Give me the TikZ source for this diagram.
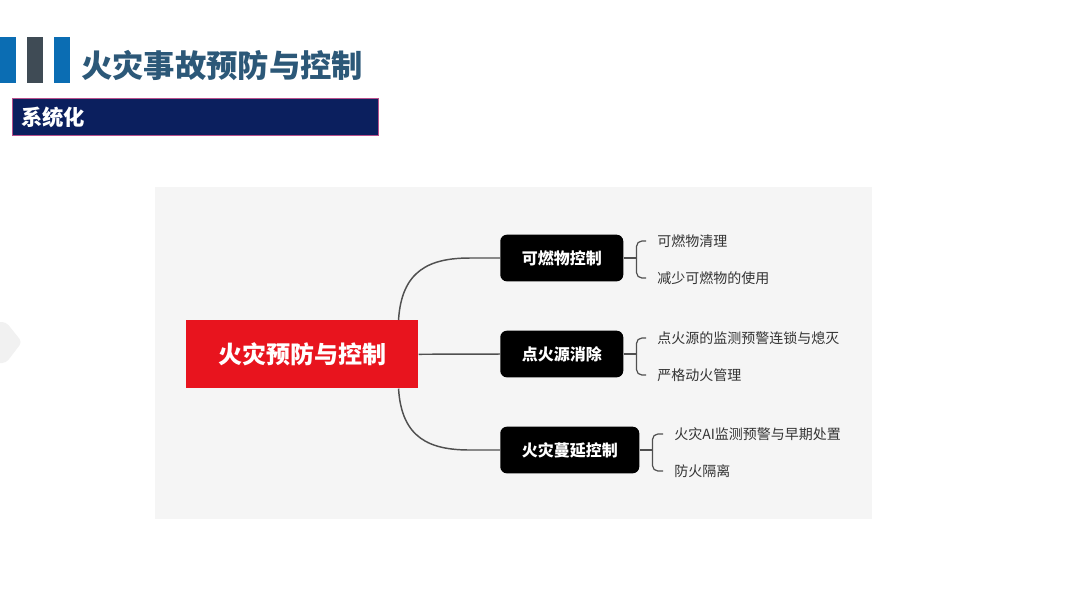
\documentclass[tikz,border=0pt]{standalone}
\usepackage{fontspec}
\newfontfamily\cjk{Noto Sans CJK SC}
\definecolor{barblue}{HTML}{0B6DB3}
\definecolor{bargray}{HTML}{3F4B55}
\definecolor{titlecol}{HTML}{2C5878}
\definecolor{navy}{HTML}{0B1F5E}
\definecolor{pinkedge}{HTML}{B8508C}
\definecolor{panel}{HTML}{F5F5F5}
\definecolor{mainred}{HTML}{E8141E}
\definecolor{linkgray}{HTML}{505050}
\definecolor{leaftext}{HTML}{333333}
\definecolor{faint}{HTML}{F1F1F1}
\tikzset{
  catbox/.style={fill=black, rounded corners=5pt, text=white, font=\cjk\bfseries\fontsize{12}{14}\selectfont, minimum height=35pt, inner xsep=0pt, anchor=west},
  leaf/.style={text=leaftext, font=\cjk\fontsize{10.5}{12}\selectfont, anchor=west, inner sep=0pt},
  link/.style={draw=linkgray, line width=1.1pt},
  brace/.style={draw=linkgray, line width=0.9pt, rounded corners=4pt},
}
\begin{document}
\begin{tikzpicture}[x=0.75pt,y=-0.75pt]
\path[use as bounding box, fill=white] (0,0) rectangle (1080,608);
% faint left shape
\fill[faint, rounded corners=3pt] (-5,322) -- (6,322) -- (22,342) -- (6,363) -- (-5,363) -- cycle;
% header bars
\fill[barblue] (0,37) rectangle (16,83);
\fill[bargray] (27,37) rectangle (43,83);
\fill[barblue] (54,37) rectangle (70,83);
\node[anchor=west, inner sep=0pt, text=titlecol, font=\cjk\bfseries\fontsize{23.5}{26}\selectfont] (title) at (81,65) {火灾事故预防与控制};
% subtitle bar
\node[draw=pinkedge, line width=0.8pt, fill=navy, anchor=north west, minimum width=366*0.75pt, minimum height=37*0.75pt, inner sep=0pt] (sub) at (12,98) {};
\node[anchor=west, inner sep=0pt, text=white, font=\cjk\bfseries\fontsize{16}{18}\selectfont] (subtxt) at (21,117) {系统化};
% panel
\fill[panel] (155,187) rectangle (872,519);
% main node
\node[fill=mainred, anchor=north west, minimum width=232*0.75pt, minimum height=68*0.75pt, inner sep=0pt, text=white, font=\cjk\bfseries\fontsize{18}{20}\selectfont] (main) at (186,320) {火灾预防与控制};
% category nodes
\node[catbox, minimum width=123*0.75pt] (k1) at (500,258) {可燃物控制};
\node[catbox, minimum width=123*0.75pt] (k2) at (500,354) {点火源消除};
\node[catbox, minimum width=139*0.75pt] (k3) at (500,450) {火灾蔓延控制};
% leaves
\node[leaf] (l11) at (657,241) {可燃物清理};
\node[leaf] (l12) at (657,278) {减少可燃物的使用};
\node[leaf] (l21) at (657,338) {点火源的监测预警连锁与熄灭};
\node[leaf] (l22) at (657,375) {严格动火管理};
\node[leaf] (l31) at (674,434) {火灾AI监测预警与早期处置};
\node[leaf] (l32) at (674,471) {防火隔离};
% main links
\coordinate (mtop) at ([xshift=-20*0.75pt]main.north east);
\coordinate (mbot) at ([xshift=-20*0.75pt]main.south east);
\draw[link] (mtop) .. controls ++(3,-50) and ++(-40,0) .. ([xshift=-30*0.75pt]k1.west) -- (k1.west);
\draw[link] (main.east) -- (k2.west);
\draw[link] (mbot) .. controls ++(3,50) and ++(-40,0) .. ([xshift=-30*0.75pt]k3.west) -- (k3.west);
% braces
\coordinate (j1) at ([xshift=13*0.75pt]k1.east);
\coordinate (j2) at ([xshift=13*0.75pt]k2.east);
\coordinate (j3) at ([xshift=13*0.75pt]k3.east);
\draw[link, line width=0.9pt] (k1.east) -- (j1);
\draw[brace] (j1) |- ([xshift=-11*0.75pt]l11.west);
\draw[brace] (j1) |- ([xshift=-11*0.75pt]l12.west);
\draw[link, line width=0.9pt] (k2.east) -- (j2);
\draw[brace] (j2) |- ([xshift=-11*0.75pt]l21.west);
\draw[brace] (j2) |- ([xshift=-11*0.75pt]l22.west);
\draw[link, line width=0.9pt] (k3.east) -- (j3);
\draw[brace] (j3) |- ([xshift=-11*0.75pt]l31.west);
\draw[brace] (j3) |- ([xshift=-11*0.75pt]l32.west);
\end{tikzpicture}
\end{document}
